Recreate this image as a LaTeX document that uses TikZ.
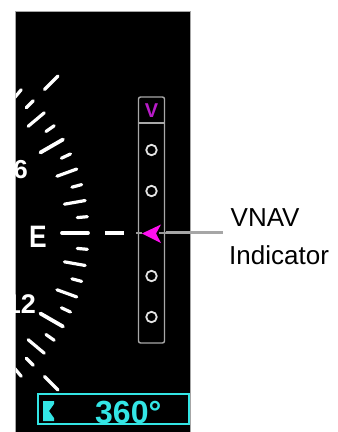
\documentclass[tikz,border=0pt]{standalone}
\usepackage{fontspec}
\setmainfont{Liberation Sans}
\definecolor{hcyan}{HTML}{33E5E5}
\definecolor{amag}{HTML}{FF10F0}
\definecolor{vmag}{HTML}{B81CC8}
\definecolor{boxgray}{HTML}{A8A8A8}
\definecolor{congray}{HTML}{A6A6A6}
\definecolor{dotwhite}{HTML}{E4E4E4}
\tikzset{
  tickline/.style={white, line width=3.2pt, line cap=round},
  majortick/.style={white, line width=3.8pt, line cap=round},
  dial/.style={white, font=\fontsize{27}{27}\selectfont\bfseries, inner sep=0pt},
  dotc/.style={circle, draw=dotwhite, line width=1.8pt, minimum size=10.5pt, inner sep=0pt},
  lbl/.style={black, font=\fontsize{26}{26}\selectfont, inner sep=0pt, anchor=base west}
}
\begin{document}
\begin{tikzpicture}[x=1pt,y=-1pt]
\useasboundingbox (0,0) rectangle (338,432);
\fill[white] (0,0) rectangle (338,432);
% panel
\fill[black] (15,11) rectangle (190,432);
\draw[gray!70, line width=0.8pt] (15,432) -- (15,11) -- (190,11) -- (190,432);
\begin{scope}
\clip (15.5,11.5) rectangle (189.5,432);
% compass rose ticks, centre (-99,233)
\foreach \a in {0,30,-30}
  \draw[majortick] ({-99+161*cos(\a)},{233-161*sin(\a)}) -- ({-99+187*cos(\a)},{233-187*sin(\a)});
\foreach \a in {10,20,40,50,-10,-20,-40,-50}
  \draw[tickline] ({-99+166*cos(\a)},{233-166*sin(\a)}) -- ({-99+187*cos(\a)},{233-187*sin(\a)});
\foreach \a in {5,15,25,35,45,-5,-15,-25,-35,-45}
  \draw[tickline] ({-99+177*cos(\a)},{233-177*sin(\a)}) -- ({-99+187*cos(\a)},{233-187*sin(\a)});
\foreach \a in {45,-45}
  \draw[tickline] ({-99+203*cos(\a)},{233-203*sin(\a)}) -- ({-99+222*cos(\a)},{233-222*sin(\a)});
% labels
\node[dial, font=\fontsize{26}{26}\selectfont\bfseries, anchor=base east] (six) at (28,178.5) {6};
\node[dial, anchor=base east] (twelve) at (36,313.5) {12};
\node[dial, font=\fontsize{31}{31}\selectfont\bfseries, anchor=base, xscale=0.85] (east) at (38,247.5) {E};
\end{scope}
% lubber dash
\draw[white, line width=3.2pt] (105,233) -- (124,233);
% VNAV box
\node[draw=boxgray, line width=1.4pt, rounded corners=2pt, minimum width=26pt, minimum height=246pt, inner sep=0pt] (vbox) at (151.5,220) {};
\draw[boxgray, line width=1.4pt] (vbox.west |- 0,123) -- (vbox.east |- 0,123);
\node[text=vmag, font=\fontsize{20}{20}\selectfont\bfseries, inner sep=0pt, anchor=base] (vlet) at (151.5,117.5) {V};
\node[dotc] (d1) at (151.5,150) {};
\node[dotc] (d2) at (151.5,191) {};
\node[dotc] (d4) at (151.5,276) {};
\node[dotc] (d5) at (151.5,317) {};
\draw[gray!80, line width=1.2pt] (136,233) -- (142,233);
\draw[gray!80, line width=1.2pt] (159,233) -- (166,233);
% VNAV indicator arrow
\fill[amag] (142,233.5) -- (161,224.5) -- (156,233.5) -- (161,243) -- cycle;
\coordinate (arrowR) at (166,232);
% label and connector
\node[lbl] (vnav) at (230.5,226.5) {VNAV};
\node[lbl] (ind) at (229,264) {Indicator};
\coordinate (lblpt) at (223,232);
\draw[congray, line width=3pt] (arrowR) -- (lblpt);
% heading box
\node[draw=hcyan, fill=black, line width=2.6pt, minimum width=151pt, minimum height=30pt, inner sep=0pt] (hbox) at (113.5,409) {};
\fill[hcyan] (43,401) -- (54,401) -- (54,404) -- (49,411) -- (54,418) -- (54,421) -- (43,421) -- cycle;
\node[text=hcyan, font=\fontsize{32}{32}\selectfont\bfseries, inner sep=0pt, anchor=base west] (hdg) at (95,423) {360°};
\end{tikzpicture}
\end{document}
